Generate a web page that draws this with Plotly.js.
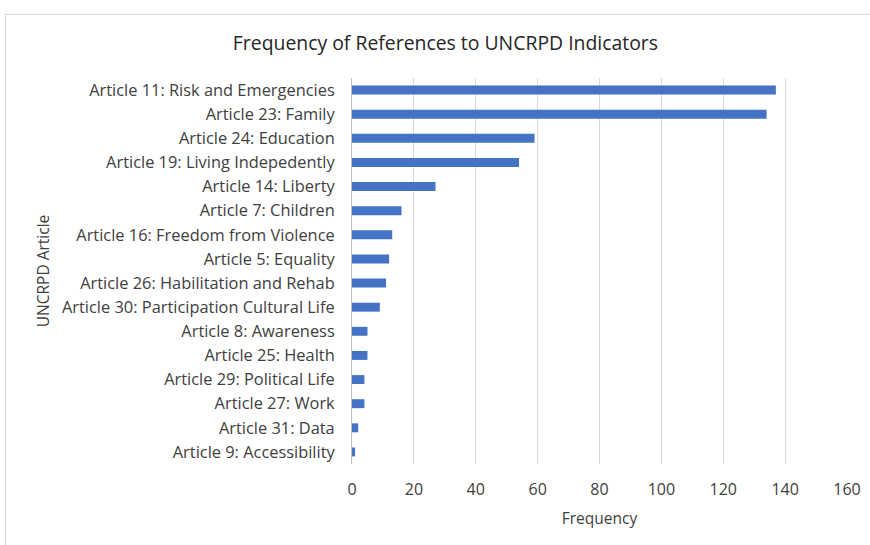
<!DOCTYPE html>
<html>
<head>
<meta charset="utf-8">
<script src="https://cdn.plot.ly/plotly-3.0.1.min.js"></script>
<style>
html,body{margin:0;padding:0;background:#fff;overflow:hidden;}
#frame{position:absolute;left:5px;top:14px;width:900px;height:600px;border:1px solid #d9d9d9;box-sizing:border-box;}
#chart{position:absolute;left:0;top:0;width:870px;height:545px;}
</style>
</head>
<body>
<div id="frame"></div>
<div id="chart"></div>
<script>
const categories = [
  "Article 11: Risk and Emergencies",
  "Article 23: Family",
  "Article 24: Education",
  "Article 19: Living Indepedently",
  "Article 14: Liberty",
  "Article 7: Children",
  "Article 16: Freedom from Violence",
  "Article 5: Equality",
  "Article 26: Habilitation and Rehab",
  "Article 30: Participation Cultural Life",
  "Article 8: Awareness",
  "Article 25: Health",
  "Article 29: Political Life",
  "Article 27: Work",
  "Article 31: Data",
  "Article 9: Accessibility"
];
const frequency = [137, 134, 59, 54, 27, 16, 13, 12, 11, 9, 5, 5, 4, 4, 2, 1];
const xTicks = [0, 20, 40, 60, 80, 100, 120, 140, 160];

const font = "'Open Sans', Lato, sans-serif";

const trace = {
  type: 'bar',
  orientation: 'h',
  x: frequency,
  y: categories,
  marker: {color: '#4472C4'},
  hoverinfo: 'x+y'
};

const layout = {
  width: 870,
  height: 545,
  paper_bgcolor: 'rgba(0,0,0,0)',
  plot_bgcolor: 'rgba(0,0,0,0)',
  margin: {l: 351.5, r: 23, t: 78, b: 81},
  bargap: 0.63,
  showlegend: false,
  title: {
    text: 'Frequency of References to UNCRPD Indicators',
    font: {family: font, size: 19.4, color: '#262626'},
    x: 0.512, xref: 'container', xanchor: 'center',
    y: 1 - 43/545, yref: 'container', yanchor: 'middle'
  },
  xaxis: {
    range: [0, 160],
    tickvals: xTicks,
    ticktext: xTicks.map(String),
    showgrid: true,
    gridcolor: '#d9d9d9',
    gridwidth: 1,
    zeroline: false,
    showline: false,
    ticks: '',
    ticklabelstandoff: 14,
    tickfont: {family: font, size: 16, color: '#404040'},
    title: {text: 'Frequency', font: {family: font, size: 15.5, color: '#404040'}, standoff: 14},
    fixedrange: true
  },
  yaxis: {
    autorange: 'reversed',
    showgrid: false,
    zeroline: false,
    showline: true,
    linecolor: '#bfbfbf',
    linewidth: 1,
    ticks: '',
    ticklabelstandoff: 13,
    tickfont: {family: font, size: 16.4, color: '#404040'},
    title: {text: 'UNCRPD Article', font: {family: font, size: 15.5, color: '#404040'}, standoff: 8},
    fixedrange: true
  }
};

Plotly.newPlot('chart', [trace], layout, {displayModeBar: false, responsive: false});
</script>
</body>
</html>
